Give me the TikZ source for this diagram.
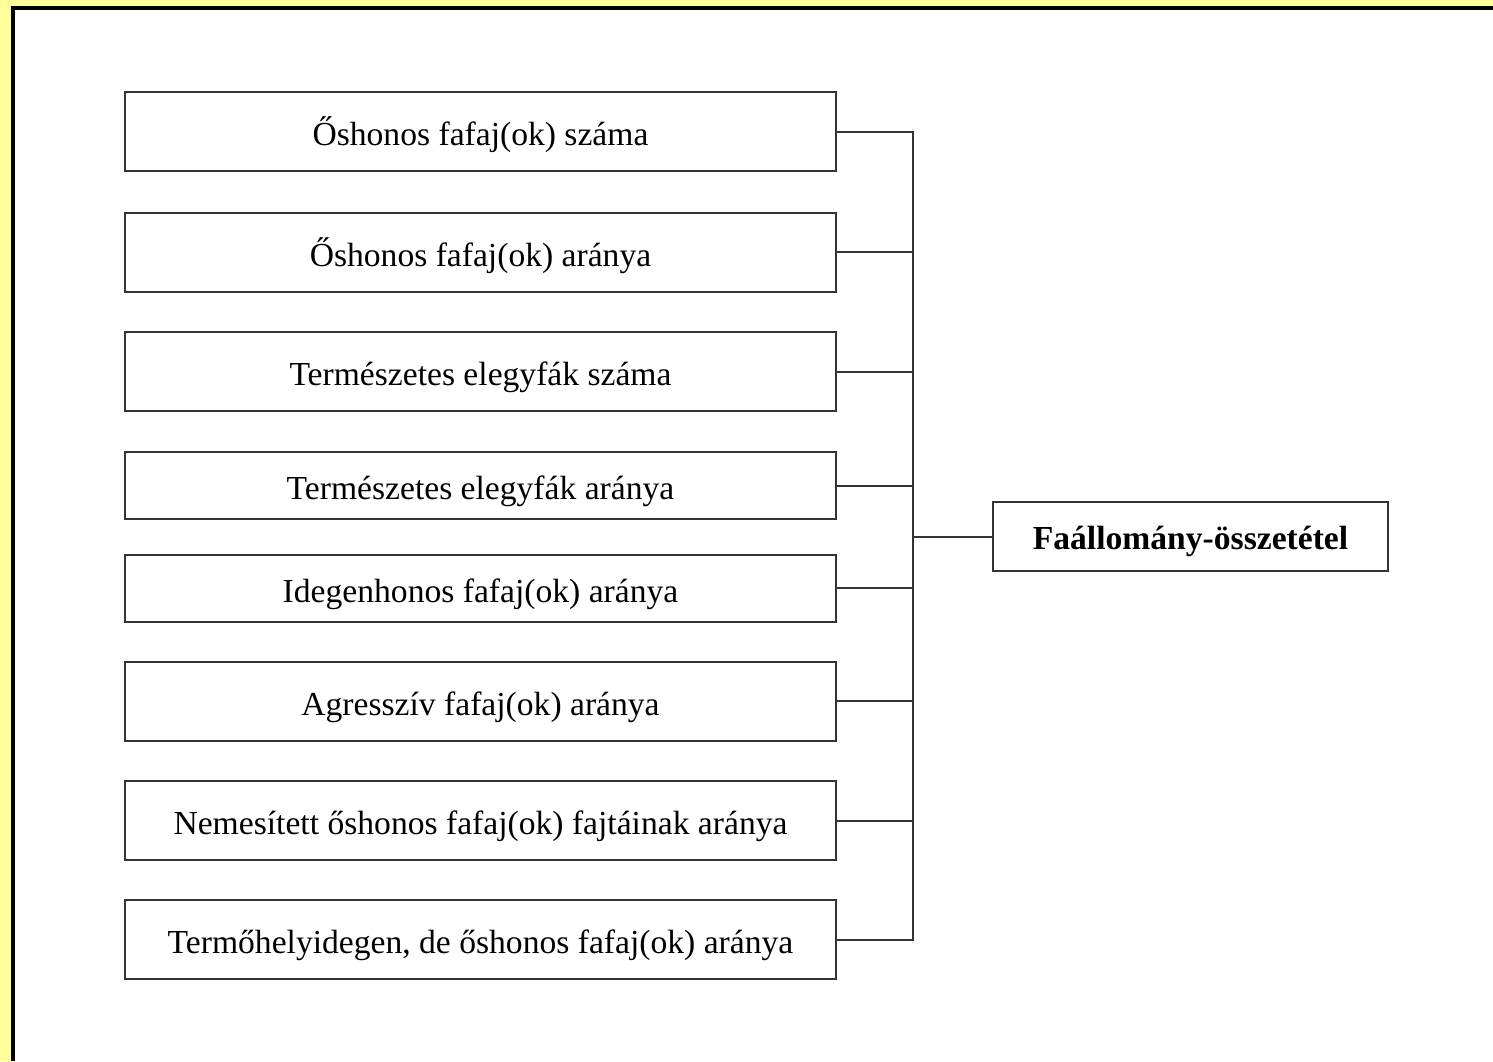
\documentclass[tikz,border=0pt]{standalone}
\usepackage{fontspec}
\setmainfont{Liberation Serif}
\definecolor{pageyellow}{HTML}{FFFF99}
\definecolor{wire}{HTML}{333333}
\begin{document}
\begin{tikzpicture}[x=0.5pt,y=-0.5pt,
    crit/.style={draw=wire, line width=1pt, minimum width=355.5pt,
      minimum height=39.5pt, inner sep=0pt, text height=17pt, text depth=3pt,
      font=\fontsize{16.8}{20}\selectfont},
    low/.style={minimum height=33.5pt},
    goal/.style={draw=wire, line width=1pt, minimum width=197.5pt,
      minimum height=34.5pt, inner sep=0pt, text height=16pt, text depth=3pt,
      font=\fontsize{16.8}{20}\selectfont\bfseries}]
      % frame
      \fill[pageyellow] (0,0) rectangle (1493,1061);
      \fill[white] (15,10) rectangle (1493,1061);
      \fill[black] (11,6) rectangle (1493,10);
      \fill[black] (11,6) rectangle (15,1061);
      \useasboundingbox (0,0) rectangle (1493,1061);
      \draw
        (480.5,131.5) node[crit] (b1){Őshonos fafaj(ok) száma}
        (480.5,252) node[crit] (b2){Őshonos fafaj(ok) aránya}
        (480.5,371.5) node[crit] (b3){Természetes elegyfák száma}
        (480.5,485.5) node[crit,low] (b4){Természetes elegyfák aránya}
        (480.5,588) node[crit,low] (b5){Idegenhonos fafaj(ok) aránya}
        (480.5,701) node[crit] (b6){Agresszív fafaj(ok) aránya}
        (480.5,820.5) node[crit] (b7){Nemesített őshonos fafaj(ok) fajtáinak aránya}
        (480.5,939.5) node[crit] (b8){Termőhelyidegen, de őshonos fafaj(ok) aránya}
        (1190.5,536.5) node[goal] (f){Faállomány-összetétel};
      \coordinate (j) at (913,536.5);
      \begin{scope}[wire, line width=1pt]
        \draw (b1) -| (j);
        \draw (b2) -| (j);
        \draw (b3) -| (j);
        \draw (b4) -| (j);
        \draw (b5) -| (j);
        \draw (b6) -| (j);
        \draw (b7) -| (j);
        \draw (b8) -| (j);
        \draw (j) to (f);
      \end{scope}
    \end{tikzpicture}
\end{document}
